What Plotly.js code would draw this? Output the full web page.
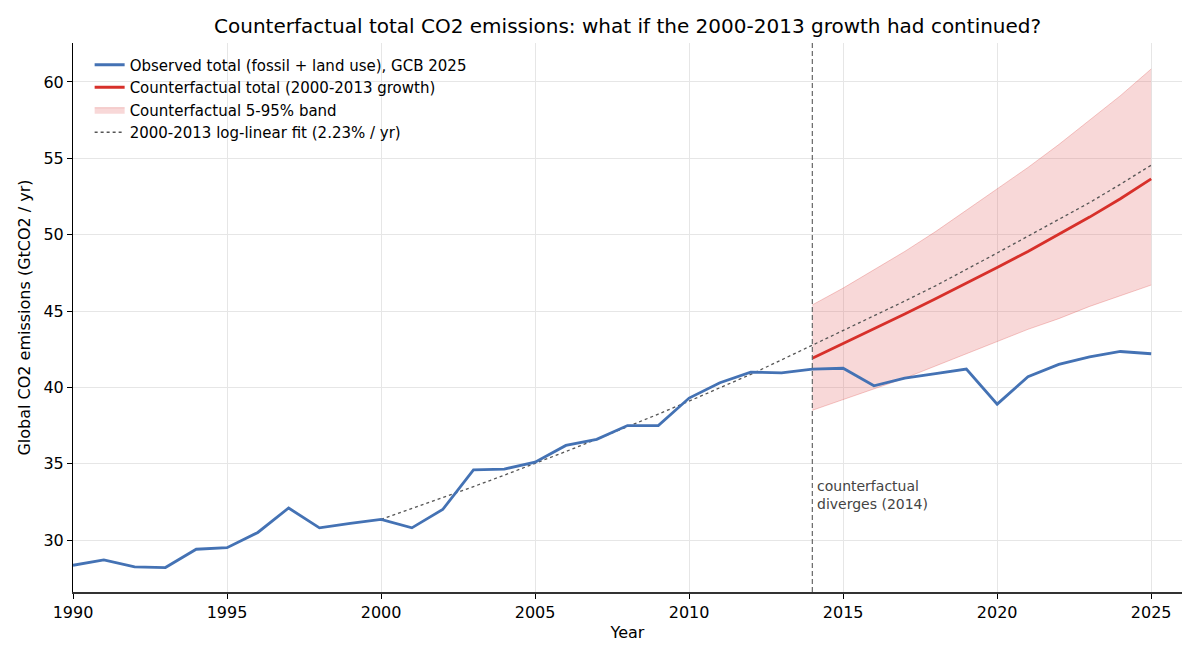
<!DOCTYPE html>
<html>
<head>
<meta charset="utf-8">
<script src="https://cdn.plot.ly/plotly-3.0.1.min.js"></script>
<style>
  html, body { margin: 0; padding: 0; background: #fff; }
  #chart { width: 1200px; height: 660px; }
</style>
</head>
<body>
<div id="chart"></div>
<script>
// observed totals, GtCO2 / yr
var obsYears = [1990, 1991, 1992, 1993, 1994, 1995, 1996, 1997, 1998, 1999,
                2000, 2001, 2002, 2003, 2004, 2005, 2006, 2007, 2008, 2009,
                2010, 2011, 2012, 2013, 2014, 2015, 2016, 2017, 2018, 2019,
                2020, 2021, 2022, 2023, 2024, 2025];
var obsValues = [28.35, 28.7, 28.25, 28.2, 29.4, 29.5, 30.5, 32.1, 30.8, 31.1,
                 31.35, 30.8, 32.0, 34.6, 34.65, 35.1, 36.2, 36.6, 37.5, 37.5,
                 39.3, 40.3, 41.0, 40.95, 41.2, 41.25, 40.1, 40.6, 40.9, 41.2,
                 38.9, 40.7, 41.5, 42.0, 42.35, 42.2];

// counterfactual after 2014
var cfYears = [2014, 2015, 2016, 2017, 2018, 2019, 2020, 2021, 2022, 2023, 2024, 2025];
var cfValues = [41.9, 42.85, 43.8, 44.8, 45.8, 46.8, 47.85, 48.9, 50.0, 51.15, 52.35, 53.65];
var cfLow = [38.5, 39.2, 39.9, 40.6, 41.4, 42.2, 43.0, 43.8, 44.5, 45.3, 46.0, 46.7];
var cfHigh = [45.4, 46.5, 47.7, 48.9, 50.2, 51.6, 53.0, 54.4, 55.9, 57.5, 59.1, 60.85];

// 2000-2013 log-linear fit, extended to 2025
var fitYears = [2000, 2001, 2002, 2003, 2004, 2005, 2006, 2007, 2008, 2009, 2010, 2011, 2012,
                2013, 2014, 2015, 2016, 2017, 2018, 2019, 2020, 2021, 2022, 2023, 2024, 2025];
var fitValues = [31.35, 32.05, 32.75, 33.5, 34.25, 35.0, 35.8, 36.6, 37.4, 38.25, 39.1, 39.95, 40.85,
                 41.8, 42.75, 43.7, 44.65, 45.65, 46.65, 47.7, 48.8, 49.9, 51.0, 52.1, 53.3, 54.55];

var xTicks = [1990, 1995, 2000, 2005, 2010, 2015, 2020, 2025];
var yTicks = [30, 35, 40, 45, 50, 55, 60];

var blue = '#4472b4';
var red = '#d7302a';
var font = 'DejaVu Sans, sans-serif';

var traces = [
  {
    x: cfYears, y: cfLow, type: 'scatter', mode: 'lines',
    line: {color: 'rgba(214,48,42,0.25)', width: 1},
    showlegend: false, hoverinfo: 'skip'
  },
  {
    x: cfYears, y: cfHigh, type: 'scatter', mode: 'lines',
    fill: 'tonexty', fillcolor: 'rgba(226,90,90,0.24)',
    line: {color: 'rgba(214,48,42,0.25)', width: 1},
    name: 'Counterfactual 5-95% band', legendrank: 3
  },
  {
    x: fitYears, y: fitValues, type: 'scatter', mode: 'lines',
    line: {color: '#555', width: 1.3, dash: 'dot'},
    name: '2000-2013 log-linear fit (2.23% / yr)', legendrank: 4
  },
  {
    x: obsYears, y: obsValues, type: 'scatter', mode: 'lines',
    line: {color: blue, width: 2.8},
    name: 'Observed total (fossil + land use), GCB 2025', legendrank: 1
  },
  {
    x: cfYears, y: cfValues, type: 'scatter', mode: 'lines',
    line: {color: red, width: 2.8},
    name: 'Counterfactual total (2000-2013 growth)', legendrank: 2
  }
];

var layout = {
  width: 1200, height: 660,
  margin: {l: 73, r: 18, t: 43, b: 68},
  paper_bgcolor: '#fff', plot_bgcolor: '#fff',
  font: {family: font, size: 16, color: '#000'},
  title: {
    text: 'Counterfactual total CO2 emissions: what if the 2000-2013 growth had continued?',
    font: {family: font, size: 20, color: '#000'},
    x: 0.523, xanchor: 'center', y: 0.96, yanchor: 'middle'
  },
  xaxis: {
    range: [1990, 2026], tickvals: xTicks,
    ticks: 'outside', ticklen: 5, tickcolor: '#000',
    showline: true, linecolor: '#333', linewidth: 1.6,
    showgrid: true, gridcolor: '#e6e6e6', zeroline: false,
    tickfont: {size: 16},
    title: {text: 'Year', font: {size: 16}, standoff: 6}
  },
  yaxis: {
    range: [26.6, 62.55], tickvals: yTicks,
    ticks: 'outside', ticklen: 5, tickcolor: '#000',
    showline: true, linecolor: '#000', linewidth: 1,
    showgrid: true, gridcolor: '#e6e6e6', zeroline: false,
    tickfont: {size: 16},
    title: {text: 'Global CO2 emissions (GtCO2 / yr)', font: {size: 16}, standoff: 8}
  },
  legend: {
    x: 0.015, y: 0.99, xanchor: 'left', yanchor: 'top',
    bgcolor: 'rgba(255,255,255,0)', font: {size: 15},
    traceorder: 'normal', tracegroupgap: 0
  },
  shapes: [{
    type: 'line', xref: 'x', yref: 'paper',
    x0: 2014, x1: 2014, y0: 0, y1: 1,
    line: {color: '#666', width: 1.2, dash: '5px,3px'}
  }],
  annotations: [{
    x: 2014, y: 32.95, xref: 'x', yref: 'y',
    xanchor: 'left', yanchor: 'middle', xshift: 3, align: 'left',
    showarrow: false,
    text: 'counterfactual<br>diverges (2014)',
    font: {family: font, size: 14, color: '#444'}
  }]
};

Plotly.newPlot('chart', traces, layout, {displayModeBar: false, staticPlot: true});
</script>
</body>
</html>
